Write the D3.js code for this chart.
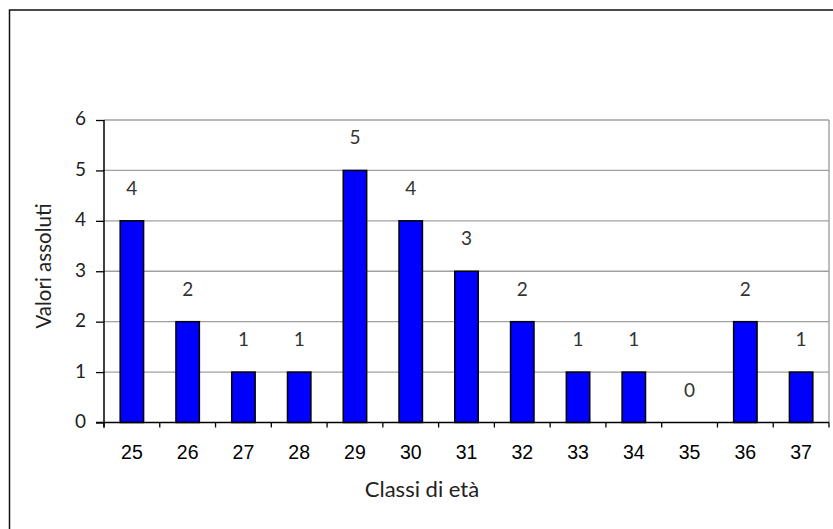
<!DOCTYPE html>
<html>
<head>
<meta charset="utf-8">
<script src="https://cdn.jsdelivr.net/npm/d3@7"></script>
<style>
  html, body { margin: 0; padding: 0; background: #fff; }
  svg { display: block; }
  .gothic { font-family: "Century Gothic", "URW Gothic", Lato, "DejaVu Sans", sans-serif; }
  .arial { font-family: Arial, "Liberation Sans", sans-serif; }
</style>
</head>
<body>
<svg id="chart" width="833" height="529"></svg>
<script>
// Age classes and absolute counts
const categories = ["25", "26", "27", "28", "29", "30", "31", "32", "33", "34", "35", "36", "37"];
const counts = [4, 2, 1, 1, 5, 4, 3, 2, 1, 1, 0, 2, 1];
const yTicks = [0, 1, 2, 3, 4, 5, 6];
const xTitle = "Classi di età";
const yTitle = "Valori assoluti";

const svg = d3.select("#chart");
const plot = { left: 104, right: 829, top: 120, bottom: 422.5 };

const x = d3.scaleBand().domain(categories).range([plot.left, plot.right]).padding(0);
const y = d3.scaleLinear().domain([0, 6]).range([plot.bottom, plot.top]);
const barFrac = 0.42;

// Outer frame (top and left edges visible)
svg.append("path")
  .attr("d", `M9.5,529 V10 H833`)
  .attr("fill", "none")
  .attr("stroke", "#111")
  .attr("stroke-width", 1.5);

// Horizontal gridlines
svg.append("g")
  .selectAll("line")
  .data(yTicks.filter(d => d > 0))
  .join("line")
  .attr("x1", plot.left).attr("x2", plot.right)
  .attr("y1", d => y(d)).attr("y2", d => y(d))
  .attr("stroke", "#a0a0a0")
  .attr("stroke-width", 1.4);

// Right edge of plot area
svg.append("line")
  .attr("x1", plot.right).attr("x2", plot.right)
  .attr("y1", plot.top).attr("y2", plot.bottom)
  .attr("stroke", "#a0a0a0")
  .attr("stroke-width", 1.4);

// Bars
svg.append("g")
  .selectAll("rect")
  .data(categories.map((c, i) => ({ c, v: counts[i] })).filter(d => d.v > 0))
  .join("rect")
  .attr("x", d => x(d.c) + x.bandwidth() * (1 - barFrac) / 2)
  .attr("width", x.bandwidth() * barFrac)
  .attr("y", d => y(d.v))
  .attr("height", d => y(0) - y(d.v))
  .attr("fill", "#0000ff")
  .attr("stroke", "#000")
  .attr("stroke-width", 1.5);

// Value labels above bars
svg.append("g")
  .attr("class", "gothic")
  .selectAll("text")
  .data(categories.map((c, i) => ({ c, v: counts[i] })))
  .join("text")
  .attr("x", d => x(d.c) + x.bandwidth() / 2)
  .attr("y", d => y(d.v) - 26)
  .attr("text-anchor", "middle")
  .attr("font-size", 19)
  .attr("fill", "#333")
  .text(d => d.v);

// Y axis
const yAxis = svg.append("g")
  .attr("transform", `translate(${plot.left},0)`)
  .call(d3.axisLeft(y).tickValues(yTicks).tickFormat(d3.format("d")).tickSize(8).tickPadding(10));
yAxis.select(".domain").attr("stroke", "#000").attr("stroke-width", 1.5)
  .attr("d", `M0,${plot.top}V${plot.bottom + 5}`);
yAxis.selectAll(".tick line").attr("stroke", "#000").attr("stroke-width", 1.3);
yAxis.selectAll(".tick text")
  .attr("class", "gothic")
  .attr("font-size", 19)
  .attr("fill", "#222")
  .attr("dy", "0.26em");

// X axis line and boundary ticks
const xg = svg.append("g");
xg.append("line")
  .attr("x1", plot.left - 8).attr("x2", plot.right)
  .attr("y1", y(0)).attr("y2", y(0))
  .attr("stroke", "#000").attr("stroke-width", 1.5);
const bounds = categories.map(c => x(c)).concat([x.range()[1]]);
xg.selectAll(".bt")
  .data(bounds)
  .join("line")
  .attr("class", "bt")
  .attr("x1", d => d).attr("x2", d => d)
  .attr("y1", y(0)).attr("y2", y(0) + 5)
  .attr("stroke", "#000").attr("stroke-width", 1.3);
xg.selectAll(".xl")
  .data(categories)
  .join("text")
  .attr("class", "xl arial")
  .attr("x", d => x(d) + x.bandwidth() / 2)
  .attr("y", 458.5)
  .attr("text-anchor", "middle")
  .attr("font-size", 19.5)
  .attr("fill", "#000")
  .text(d => d);

// Axis titles
svg.append("text")
  .attr("class", "gothic")
  .attr("x", 422)
  .attr("y", 497)
  .attr("text-anchor", "middle")
  .attr("font-size", 22)
  .attr("fill", "#222")
  .text(xTitle);

svg.append("text")
  .attr("class", "gothic")
  .attr("transform", "translate(51,266) rotate(-90)")
  .attr("text-anchor", "middle")
  .attr("font-size", 20.5)
  .attr("fill", "#222")
  .text(yTitle);
</script>
</body>
</html>
